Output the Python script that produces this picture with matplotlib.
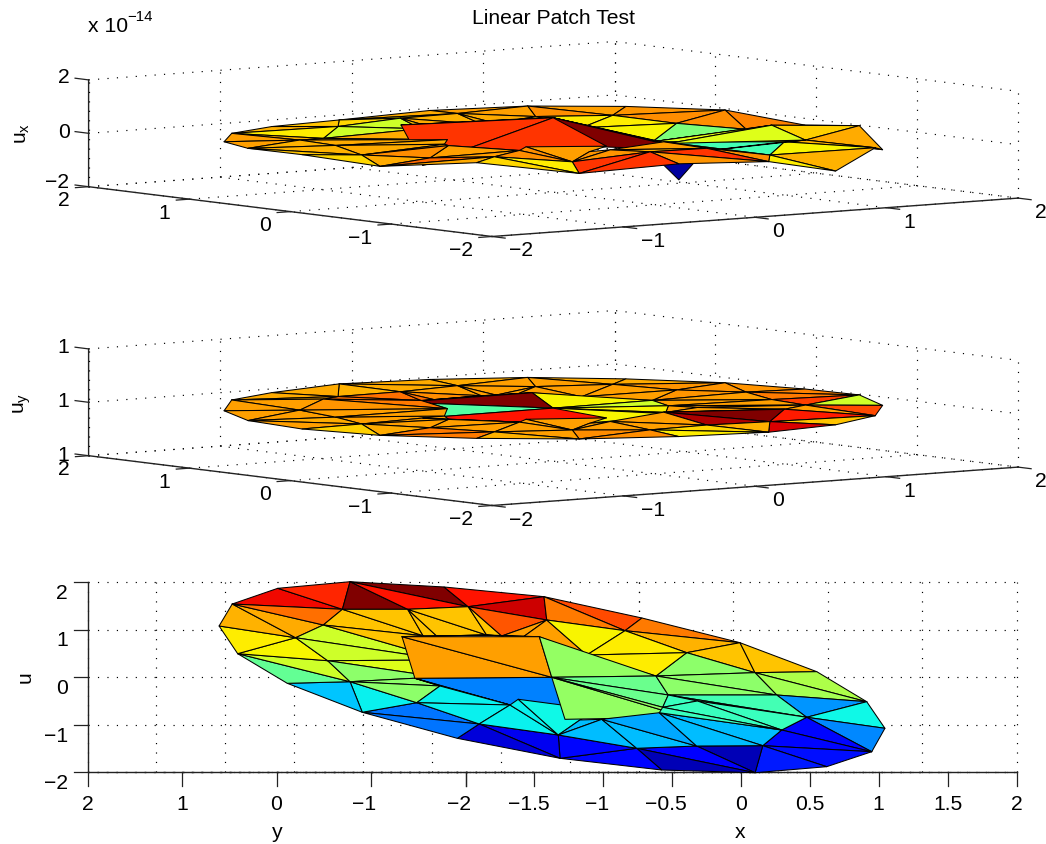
import numpy as np
import matplotlib
matplotlib.use("Agg")
import matplotlib.pyplot as plt
from matplotlib.collections import PolyCollection

plt.rcParams['font.family'] = ['Liberation Sans', 'DejaVu Sans']
plt.rcParams['mathtext.fontset'] = 'custom'
plt.rcParams['mathtext.rm'] = 'Liberation Sans'
plt.rcParams['mathtext.default'] = 'rm'

# mesh nodes of the disk
node_x = [-1.680, -1.267, -0.710, -0.090, 0.516, 1.102, 1.505, 1.860, 1.999, 1.928,
          1.676, 1.242, 0.699, 0.092, -0.547, -1.116, -1.573, -1.887, -2.013, -1.945,
          -0.544, -0.070, 0.407, 0.785, 1.199, 1.329, 1.536, 1.371, 1.267, 0.902,
          0.538, 0.053, -0.415, -0.792, -1.207, -1.353, -1.534, -1.393, -1.294, -0.909,
          -0.507, -1.014, -0.006, 0.490, -0.517, 0.388, 0.570, 0.769, 0.584, 0.366,
          0.263, 0.709, 0.196, -0.340, -0.245, 0.227, 0.132, -0.567, -0.709, -0.943,
          -0.418, -0.250, -0.531, -0.828, -0.547, -0.129]
node_y = [1.074, 1.537, 1.867, 2.006, 1.895, 1.691, 1.242, 0.722, 0.112, -0.520,
          -1.080, -1.573, -1.888, -2.015, -1.958, -1.712, -1.291, -0.743, -0.133, 0.491,
          1.425, 1.425, 1.480, 1.200, 0.975, 0.512, 0.091, -0.379, -0.848, -1.116,
          -1.446, -1.453, -1.501, -1.221, -0.989, -0.541, -0.099, 0.343, 0.827, 1.095,
          0.848, -0.027, -0.006, 0.848, -0.891, -0.842, 0.463, 0.021, -0.379, -0.638,
          -0.752, -0.505, 0.695, 0.869, 0.863, 0.863, 0.884, -0.469, -0.589, -0.189,
          -0.905, -0.891, 0.358, 0.000, -1.958, -0.695]
# u is the same reading as y on this patch
node_u = list(node_y)
# in units of 1e-14
node_ux = [0, -.05, -.15, -.19, 0, .05, .1, .08, -.25, .05,
           -.5, -.04, -.57, .06, .18, -.09, .28, 0, .2, .12,
           0, .14, .12, 0, 0, -.13, -.23, .2, -.1, .09,
           -.12, .31, .37, 0, .23, .03, 0, .1, .04, -.16,
           .31, -.6, .8, .2, .34, -.15, 0, -.39, -.2, 0,
           .15, -.5, .2, .1, .1, .1, .1, .13, .1, .18,
           .1, .1, 0, .1, -.42, .1]
node_uy = [0, .04, -.04, 0, 0, -.04, -.03, -.06, -.06, .04,
           0, 0, 0, 0, .04, .04, .03, 0, 0, 0,
           -.04, -.03, 0, -.04, 0, -.04, 0, 0, .05, .15,
           -.03, .02, .03, .03, 0, 0, 0, 0, 0, .15,
           0, 0, 0, 0, 0, 0, 0, 0, .05, 0,
           .1, 0, 0, 0, 0, 0, 0, 0, 0, 0,
           0, 0, 0, 0, .04, 0]

faces = [(1,2,20), (2,3,20), (3,21,20), (3,4,22), (3,22,21), (4,5,22), (22,5,23), (5,6,24),
         (5,23,24), (6,7,24), (24,7,25), (25,7,26), (7,8,26), (26,8,9), (26,9,27), (25,26,47),
         (47,26,27), (27,9,28), (9,10,28), (10,11,28), (28,11,29), (29,11,30), (30,11,12), (30,12,13),
         (31,30,13), (32,31,13), (32,13,14), (32,31,64), (15,32,14), (33,32,15), (34,33,15), (34,15,16),
         (17,35,34), (17,34,16), (36,35,17), (18,36,17), (19,36,18), (19,37,36), (19,38,37), (0,38,19),
         (0,1,38), (1,39,38), (1,20,39), (39,20,53), (20,21,53), (21,54,53), (21,56,54), (21,22,56),
         (22,55,56), (22,23,55), (23,52,55), (23,46,52), (23,24,46), (46,24,25), (46,25,47), (39,62,38),
         (38,62,37), (37,62,63), (53,39,62), (62,53,40), (54,56,40), (56,55,43), (55,52,43), (52,46,43),
         (37,63,36), (36,63,59), (36,59,35), (63,41,59), (41,42,65,58), (59,41,58), (59,58,35), (35,58,34),
         (34,58,33), (58,57,33), (57,65,60,33), (33,60,61), (33,61,32), (61,32,31), (40,41,42), (40,42,43),
         (43,42,47), (42,47,48), (42,48,49), (42,44,45), (42,49,45), (61,31,50), (50,29,30), (50,30,31), (47,27,48),
         (48,27,28), (48,28,51), (51,28,29), (48,51,49), (49,51,29), (49,29,50)]
# facet colours on the 0-1 jet scale, None where a panel does not show the facet
face_u = [.90, .87, 1.0, 1.0, .89, .89, .93, .83,
          .78, .78, .72, .70, .70, .56, .55, .52,
          .52, .27, .37, .26, .13, .13, .14, .15,
          .05, .12, .05, None, .13, .13, .10, .08,
          .24, .24, .36, .32, .47, .60, .65, .66,
          .72, .73, .79, .70, .70, .70, .70, .70,
          .70, .82, .74, .74, .65, .66, .66, .60,
          .60, .62, .70, .70, .72, .72, .72, .74,
          .52, .52, .52, .52, .25, .36, .36, .36,
          .36, .36, .37, .31, .31, .31, .74, .74,
          .53, .48, .48, .53, .53, .29, .31, .31, .52,
          .43, .45, .42, .42, .42, .42]
face_ux = [.72, .70, .68, .73, .66, .74, .74, .74,
           .76, .75, .76, .76, .77, .76, .74, .50,
           .65, .69, .73, .73, .72, .65, .72, .66,
           .76, .855, .75, .03, .855, .855, .66, .68,
           .80, .73, .73, .68, .70, .72, .72, .74,
           .74, .72, .66, .60, .60, .70, .73, .72,
           .73, .73, .73, .70, .66, .66, .65, .73,
           .73, .73, .73, .73, .73, .73, .73, .72,
           .73, .73, .76, .73, .855, .73, .74, .74,
           .76, .76, .74, .75, .75, .72, .855, .855,
           .65, .62, .72, 1.0, .72, .74, .43, .74, .63,
           .62, .66, .66, .73, .73, .73]
face_uy = [.73, .73, .72, .73, .73, .73, .74, .73,
           .74, .73, .75, .75, .75, .77, .78, .75,
           .74, .84, .60, .83, .74, .88, .70, .92,
           .72, .68, .66, None, .76, .76, .74, .72,
           .78, .78, .73, .69, .74, .73, .74, .74,
           .74, .74, .73, .79, .79, .79, .76, .74,
           .74, .74, .74, .74, .74, .74, .74, .75,
           .74, .74, .78, .78, .75, .75, .75, .68,
           .74, .74, .74, .74, .89, .74, .74, .74,
           .74, .74, .74, .74, .74, .74, .45, 1.0,
           .65, .60, .65, .65, .65, .74, 1.0, .96, .74,
           .74, .74, .74, .74, .74, .74]

# facets the depth sort gets wrong, nudged in drawing order for that panel
ux_nudge = {(51,28,29): 8, (48,28,51): 8, (48,27,28): 12, (32,31,64): -6}
uy_nudge = {(39,62,38): 12, (38,62,37): 12, (37,62,63): 12, (53,39,62): 12, (62,53,40): 12}

x_ticks_top = [-2, -1, 0, 1, 2]
y_ticks = [-2, -1, 0, 1, 2]
z_ticks_top = [-2, 0, 2]
x_ticks_bottom = [-2, -1.5, -1, -0.5, 0, 0.5, 1, 1.5, 2]
z_ticks_bottom = [-2, -1, 0, 1, 2]
ux_labels = ['\u22122', '0', '2']
uy_labels = ['1', '1', '1']
u_labels = ['\u22122', '\u22121', '0', '1', '2']
x_top_labels = ['\u22122', '\u22121', '0', '1', '2']
y_labels = ['\u22122', '\u22121', '0', '1', '2']
x_bottom_labels = ['\u22122', '\u22121.5', '\u22121', '\u22120.5', '0', '0.5', '1', '1.5', '2']

FS = 15.2
DOTS = (0, (1, 7))
INK = '#222222'


class View:
    """Fixed oblique projection from data units to figure pixels."""
    def __init__(self, ox, oy, xv, yv, zv):
        self.o = np.array([ox, oy], float)
        self.xv = np.array(xv, float)
        self.yv = np.array(yv, float)
        self.zv = np.array(zv, float)

    def __call__(self, x, y, z):
        return self.o + self.xv * x + self.yv * y + self.zv * z


def draw_frame(ax, view, xt, yt, zt):
    zlo, zhi = zt[0], zt[-1]
    for x in xt:
        seg = [view(x, -2, zlo), view(x, 2, zlo)]
        ax.plot(*zip(*seg), color='k', lw=0.85, ls=DOTS)
        seg = [view(x, 2, zlo), view(x, 2, zhi)]
        ax.plot(*zip(*seg), color='k', lw=0.85, ls=DOTS)
    for y in yt:
        seg = [view(-2, y, zlo), view(2, y, zlo)]
        ax.plot(*zip(*seg), color='k', lw=0.85, ls=DOTS)
        seg = [view(2, y, zlo), view(2, y, zhi)]
        ax.plot(*zip(*seg), color='k', lw=0.85, ls=DOTS)
    for z in zt:
        seg = [view(-2, 2, z), view(2, 2, z), view(2, -2, z)]
        ax.plot(*zip(*seg), color='k', lw=0.85, ls=DOTS)
    # solid axes
    seg = [view(-2, 2, zhi), view(-2, 2, zlo), view(-2, -2, zlo), view(2, -2, zlo)]
    ax.plot(*zip(*seg), color=INK, lw=1.0, solid_joinstyle='miter')


def draw_surface(ax, view, zs, colours, nudge=None):
    cmap = plt.get_cmap('jet')
    order = range(len(faces))
    if nudge is not None:
        # far facets first: the plane height on screen grows towards the viewer
        depth = [np.mean([view(node_x[i], node_y[i], 0)[1] for i in f]) + nudge.get(f, 0) for f in faces]
        order = np.argsort(depth, kind='stable')
    polys, fc = [], []
    for k in order:
        if colours[k] is None:
            continue
        polys.append([view(node_x[i], node_y[i], zs[i]) for i in faces[k]])
        fc.append(cmap(colours[k]))
    ax.add_collection(PolyCollection(polys, facecolors=fc, edgecolors='k', linewidths=0.75, zorder=3))


def tick_top(ax, view, xt, yt, zt, zlab, z_dy):
    zlo = zt[0]
    for x, lab in zip(xt, x_top_labels):
        p = view(x, -2, zlo)
        q = p - view(0, 0.13, 0) + view(0, 0, 0)
        ax.plot([p[0], q[0]], [p[1], q[1]], color=INK, lw=0.9)
        ax.text(p[0] + 17, p[1] + 14.5, lab, ha='left', va='center', fontsize=FS)
    for y, lab in zip(yt, y_labels):
        p = view(-2, y, zlo)
        q = p - view(0.1, 0, 0) + view(0, 0, 0)
        ax.plot([p[0], q[0]], [p[1], q[1]], color=INK, lw=0.9)
        ax.text(p[0] - 19, p[1] + 14, lab, ha='right', va='center', fontsize=FS)
    for z, lab, dy in zip(zt, zlab, z_dy):
        p = view(-2, 2, z)
        ax.plot([p[0], p[0] - 13.5], [p[1], p[1] - 1.7], color=INK, lw=0.9)
        ax.text(p[0] - 19, p[1] + dy, lab, ha='right', va='center', fontsize=FS)


fig = plt.figure(figsize=(10.46, 8.44), dpi=100)
ax = fig.add_axes([0, 0, 1, 1])
ax.set_xlim(0, 1046)
ax.set_ylim(844, 0)
ax.axis('off')

view_ux = View(553.3, 139, (131.5, -9.6), (-100.85, -12.45), (0, -26.7))
view_uy = View(553.3, 408, (131.5, -9.6), (-100.85, -12.45), (0, -26.7))
view_u = View(552, 677, (137.75, 0), (-94.5, 0), (0, -47.5))

# top panel
draw_frame(ax, view_ux, x_ticks_top, y_ticks, z_ticks_top)
tick_top(ax, view_ux, x_ticks_top, y_ticks, z_ticks_top, ux_labels, [-3.7, -0.6, -2])
draw_surface(ax, view_ux, node_ux, face_ux, ux_nudge)
ax.text(553.5, 19, 'Linear Patch Test', ha='center', va='center', fontsize=FS)
ax.text(88, 27, 'x 10', ha='left', va='center', fontsize=FS)
ax.text(127, 17, '\u221214', ha='left', va='center', fontsize=10.8)
ax.text(22, 133, r'$\mathrm{u_x}$', rotation=90, ha='center', va='center', fontsize=FS)

# middle panel
draw_frame(ax, view_uy, x_ticks_top, y_ticks, z_ticks_top)
tick_top(ax, view_uy, x_ticks_top, y_ticks, z_ticks_top, uy_labels, [0, -0.5, -1])
draw_surface(ax, view_uy, node_uy, face_uy, uy_nudge)
ax.text(22, 403, r'$\mathrm{u_y}$', rotation=90, ha='center', va='center', fontsize=FS)

# bottom panel, seen from the side so the floor grid collapses onto one line
draw_frame(ax, view_u, x_ticks_bottom, y_ticks, z_ticks_bottom)
draw_surface(ax, view_u, node_u, face_u)
for z, lab in zip(z_ticks_bottom, u_labels):
    p = view_u(-2, 2, z)
    ax.plot([p[0], p[0] - 14], [p[1], p[1]], color=INK, lw=0.9)
    ax.text(68, p[1] + 11.5, lab, ha='right', va='center', fontsize=FS)
for x, lab in zip(x_ticks_bottom, x_bottom_labels):
    p = view_u(x, -2, -2)
    ax.plot([p[0], p[0]], [p[1], p[1] + 14], color=INK, lw=0.9)
    ax.text(p[0] - (6 if lab[0] == '\u2212' else 0), 805, lab, ha='center', va='center', fontsize=FS)
for y, lab in zip(y_ticks, y_labels):
    p = view_u(-2, y, -2)
    ax.plot([p[0], p[0]], [p[1], p[1] + 14], color=INK, lw=0.9)
    if y != -2:
        ax.text(p[0] - (7 if lab[0] == '\u2212' else 0), 805, lab, ha='center', va='center', fontsize=FS)
ax.text(25, 677, 'u', rotation=90, ha='center', va='center', fontsize=FS)
ax.text(277, 832, 'y', ha='center', va='center', fontsize=FS)
ax.text(740, 832, 'x', ha='center', va='center', fontsize=FS)

fig.savefig('out.png', dpi=100)
